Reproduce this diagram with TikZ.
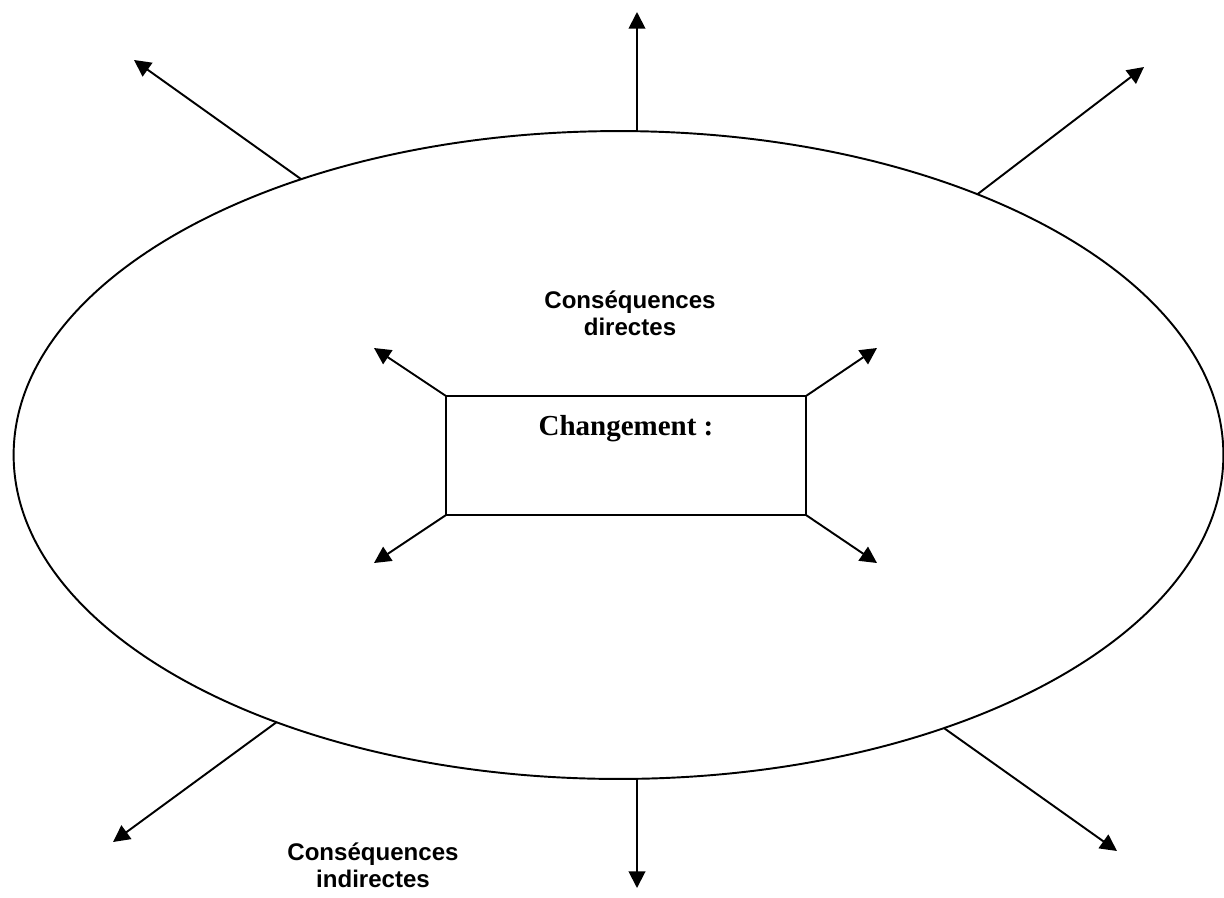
\documentclass[tikz,border=0pt]{standalone}
\usepackage{fontspec}
\setmainfont{Liberation Serif}
\setsansfont{Liberation Sans}
\usetikzlibrary{arrows.meta,shapes.geometric,positioning}

\begin{document}
\begin{tikzpicture}[x=0.02cm,y=-0.02cm,->,>={Triangle[length=9.5pt,width=9.5pt]},
		line width=1.1pt, inner sep=0pt]
		\tikzstyle{zone}=[ellipse,draw,minimum width=24.2cm,minimum height=12.96cm,outer sep=0pt]
		\tikzstyle{boite}=[rectangle,draw,minimum width=7.2cm,minimum height=2.38cm,outer sep=0pt]
		\tikzstyle{titre}=[font=\sffamily\bfseries\fontsize{13.7}{15.4}\selectfont,align=center]

		\useasboundingbox (0,0) rectangle (1224,897);

		\node[zone] 	(oval) at (618.5,455) 	{};
		\node[boite] 	(chg) at (626,455.5) 	{};
		\node[anchor=base,font=\bfseries\fontsize{16.5}{18}\selectfont] (nom) at ([yshift=-0.78cm]chg.north) {Changement :};
		\node[titre] 	(directes) at (630,313) 	{Conséquences\\directes};
		\node[titre] 	(indirectes) at (373,865) 	{Conséquences\\indirectes};

		% bouts libres des fleches
		\coordinate (n) 	at (637,12);
		\coordinate (no) 	at (134,60);
		\coordinate (ne) 	at (1144,67);
		\coordinate (so) 	at (113,842);
		\coordinate (s) 	at (637,888);
		\coordinate (se) 	at (1117,851);
		\coordinate (a) 	at (374,348);
		\coordinate (b) 	at (877,348);
		\coordinate (c) 	at (374,563);
		\coordinate (d) 	at (877,563);

		\path 	(oval.north -| n)	edge (n)
				(oval.139)			edge (no)
				(oval.36.3)			edge (ne)
				(oval.218)			edge (so)
				(oval.south -| s)	edge (s)
				(oval.320.8)		edge (se)
				(chg.north west)	edge (a)
				(chg.north east)	edge (b)
				(chg.south west)	edge (c)
				(chg.south east)	edge (d);
\end{tikzpicture}
\end{document}
